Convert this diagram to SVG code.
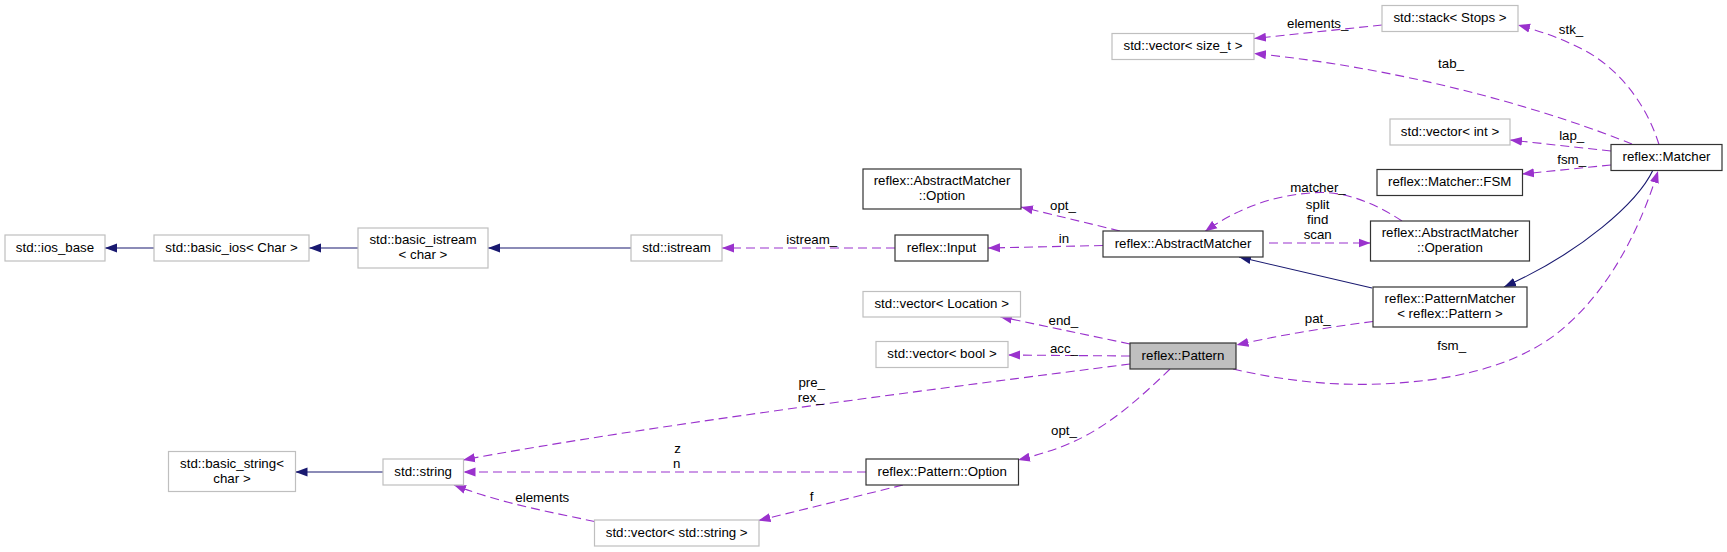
<svg xmlns="http://www.w3.org/2000/svg" width="1727" height="552" viewBox="0 0 1727 552">
<style>
  .n rect { fill: #ffffff; stroke: #bfbfbf; stroke-width: 1.2; }
  .n.d rect { stroke: #333333; }
  .n.g rect { fill: #bfbfbf; stroke: #333333; }
  text { font-family: "Liberation Sans", Arial, sans-serif; font-size: 13.3px; fill: #000000; text-anchor: middle; }
  .e { fill: none; stroke: #9a32cd; stroke-width: 1.1; stroke-dasharray: 9,5; marker-end: url(#ap); }
  .i { fill: none; stroke: #191970; stroke-width: 1.1; marker-end: url(#ab); }
</style>
<defs>
  <marker id="ap" markerUnits="userSpaceOnUse" viewBox="0 0 12 10" markerWidth="12" markerHeight="10" refX="12" refY="5" orient="auto">
    <path d="M0,0.5 L12,5 L0,9.5 z" fill="#9a32cd"/>
  </marker>
  <marker id="ab" markerUnits="userSpaceOnUse" viewBox="0 0 12 10" markerWidth="12" markerHeight="10" refX="12" refY="5" orient="auto">
    <path d="M0,0.5 L12,5 L0,9.5 z" fill="#191970"/>
  </marker>
</defs>
<rect x="0" y="0" width="1727" height="552" fill="#ffffff"/>

<g id="connectors">
  <!-- inheritance -->
  <path class="i" d="M154,248 L105,248"/>
  <path class="i" d="M358,248 L309,248"/>
  <path class="i" d="M631,248 L488,248"/>
  <path class="i" d="M1372,288 L1239,257"/>
  <path class="i" d="M1653,170 C1638,202 1582,252 1504,287"/>
  <path class="i" d="M383,472 L295.5,472"/>

  <!-- collaboration -->
  <path class="e" d="M895,248 L722,248"/>
  <text x="811.7" y="244">istream_</text>
  <path class="e" d="M1103,245.5 L988,248"/>
  <text x="1064" y="243">in</text>
  <path class="e" d="M1120,231 L1021,207"/>
  <text x="1063" y="210">opt_</text>
  <path class="e" d="M1402,221 C1370,200 1340,190 1310,193 C1270,196 1235,210 1205,231.5"/>
  <text x="1318" y="192">matcher_</text>
  <path class="e" d="M1269,243 L1370.5,243"/>
  <text x="1317.7" y="209">split</text>
  <text x="1317.7" y="224">find</text>
  <text x="1317.7" y="239">scan</text>
  <path class="e" d="M1373,321.5 C1330,327 1280,335 1236.5,345"/>
  <text x="1317.7" y="323">pat_</text>
  <path class="e" d="M1233,369 C1280,380 1330,386 1380,384 C1450,381 1510,368 1555,335 C1600,300 1635,245 1658,171"/>
  <text x="1451.7" y="350">fsm_</text>
  <path class="e" d="M1659,144.5 C1645,100 1615,65 1580,48 C1560,38 1540,31 1518,25"/>
  <text x="1571" y="34">stk_</text>
  <path class="e" d="M1632,144 C1560,115 1420,70 1254,53.5"/>
  <text x="1451" y="68">tab_</text>
  <path class="e" d="M1382,25 L1254,38.5"/>
  <text x="1317.7" y="27.5">elements_</text>
  <path class="e" d="M1611,151 L1510,140"/>
  <text x="1571.7" y="139.5">lap_</text>
  <path class="e" d="M1611,165 L1522,174"/>
  <text x="1571.7" y="164">fsm_</text>
  <path class="e" d="M1130,344 L1000,316.7"/>
  <text x="1063.3" y="325">end_</text>
  <path class="e" d="M1130,356 L1008,355"/>
  <text x="1064" y="353.3">acc_</text>
  <path class="e" d="M1130,364 C950,387 650,425 463,460"/>
  <text x="811.7" y="386.5">pre_</text>
  <text x="810.7" y="401.5">rex_</text>
  <path class="e" d="M1170,369 C1140,398 1110,425 1075,441 C1058,449 1038,455 1018,460"/>
  <text x="1064" y="434.5">opt_</text>
  <path class="e" d="M866,472 L463.5,472"/>
  <text x="677.7" y="453.3">z</text>
  <text x="676.7" y="468.3">n</text>
  <path class="e" d="M903,485 L758.5,520.5"/>
  <text x="811.7" y="501">f</text>
  <path class="e" d="M594.5,521.5 C550,512 500,503 454,485"/>
  <text x="542.3" y="501.5">elements</text>
</g>

<g id="node-ios_base" class="n"><rect x="5" y="235" width="100" height="26"/><text x="55" y="251.8">std::ios_base</text></g>
<g id="node-basic_ios" class="n"><rect x="154" y="235" width="155" height="26"/><text x="231.5" y="251.8">std::basic_ios&lt; Char &gt;</text></g>
<g id="node-basic_istream" class="n"><rect x="358" y="228" width="130" height="40"/><text x="423" y="244.3">std::basic_istream</text><text x="423" y="259.3">&lt; char &gt;</text></g>
<g id="node-istream" class="n"><rect x="631" y="235" width="91" height="26"/><text x="676.5" y="251.8">std::istream</text></g>
<g id="node-input" class="n d"><rect x="895" y="235" width="93" height="26"/><text x="941.5" y="251.8">reflex::Input</text></g>
<g id="node-am_option" class="n d"><rect x="863" y="169" width="158" height="40"/><text x="942" y="185.3">reflex::AbstractMatcher</text><text x="942" y="200.3">::Option</text></g>
<g id="node-abstractmatcher" class="n d"><rect x="1103" y="231" width="160" height="26"/><text x="1183" y="247.8">reflex::AbstractMatcher</text></g>
<g id="node-am_operation" class="n d"><rect x="1370.5" y="221" width="159" height="40"/><text x="1450" y="237.3">reflex::AbstractMatcher</text><text x="1450" y="252.3">::Operation</text></g>
<g id="node-patternmatcher" class="n d"><rect x="1373" y="287" width="154" height="40"/><text x="1450" y="303.3">reflex::PatternMatcher</text><text x="1450" y="318.3">&lt; reflex::Pattern &gt;</text></g>
<g id="node-matcher" class="n d"><rect x="1611" y="144.5" width="111" height="26"/><text x="1666.5" y="161.3">reflex::Matcher</text></g>
<g id="node-matcher_fsm" class="n d"><rect x="1377" y="169.5" width="145.5" height="26"/><text x="1449.7" y="186.3">reflex::Matcher::FSM</text></g>
<g id="node-vector_int" class="n"><rect x="1390" y="119" width="120" height="26"/><text x="1450" y="135.8">std::vector&lt; int &gt;</text></g>
<g id="node-vector_size_t" class="n"><rect x="1112" y="33.5" width="142" height="26"/><text x="1183" y="50.3">std::vector&lt; size_t &gt;</text></g>
<g id="node-stack_stops" class="n"><rect x="1382" y="5.5" width="136" height="26"/><text x="1450" y="22.3">std::stack&lt; Stops &gt;</text></g>
<g id="node-pattern" class="n g"><rect x="1130" y="343" width="106" height="26"/><text x="1183" y="359.8">reflex::Pattern</text></g>
<g id="node-vector_location" class="n"><rect x="863" y="291.5" width="157.5" height="25.5"/><text x="941.7" y="308">std::vector&lt; Location &gt;</text></g>
<g id="node-vector_bool" class="n"><rect x="876" y="341.5" width="132" height="26"/><text x="942" y="358.3">std::vector&lt; bool &gt;</text></g>
<g id="node-string" class="n"><rect x="383" y="459" width="80.5" height="26"/><text x="423.2" y="475.8">std::string</text></g>
<g id="node-basic_string" class="n"><rect x="168.5" y="451.5" width="127" height="40"/><text x="232" y="467.8">std::basic_string&lt;</text><text x="232" y="482.8">char &gt;</text></g>
<g id="node-pattern_option" class="n d"><rect x="866" y="459" width="152.5" height="26"/><text x="942.2" y="475.8">reflex::Pattern::Option</text></g>
<g id="node-vector_string" class="n"><rect x="594.5" y="520" width="164.5" height="26"/><text x="676.7" y="536.8">std::vector&lt; std::string &gt;</text></g>
</svg>
